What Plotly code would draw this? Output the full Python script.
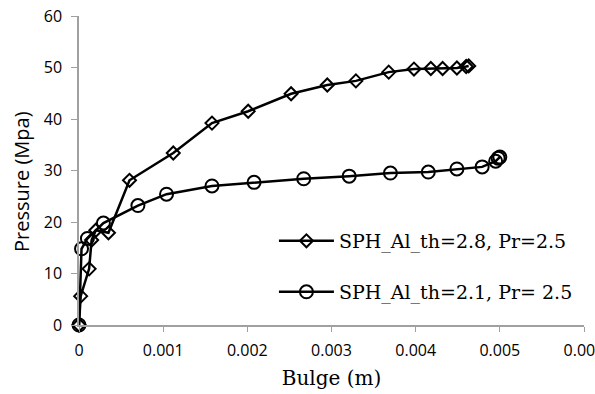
import plotly.graph_objects as go

# Series 1: SPH_Al_th=2.8, Pr=2.5 (diamonds)
bulge_28 = [0.0, 0.00002, 0.00012, 0.00015, 0.00020, 0.00035, 0.00060, 0.00112, 0.00158,
            0.00201, 0.00252, 0.00295, 0.00329, 0.00368, 0.00398, 0.00418, 0.00432,
            0.00449, 0.00460, 0.00463]
press_28 = [0.0, 5.6, 10.9, 16.5, 18.4, 17.9, 28.1, 33.4, 39.2,
            41.5, 44.9, 46.6, 47.4, 49.1, 49.7, 49.8, 49.8,
            49.9, 50.2, 50.3]

# Series 2: SPH_Al_th=2.1, Pr= 2.5 (circles)
bulge_21 = [0.0, 0.00003, 0.00010, 0.00029, 0.00070, 0.00104, 0.00158, 0.00208,
            0.00267, 0.00321, 0.00370, 0.00415, 0.00449, 0.00479, 0.00495,
            0.00498, 0.00500]
press_21 = [0.0, 14.8, 16.8, 19.8, 23.2, 25.4, 27.0, 27.7,
            28.4, 28.9, 29.5, 29.7, 30.3, 30.7, 31.8,
            32.4, 32.6]

x_ticks = [0, 0.001, 0.002, 0.003, 0.004, 0.005, 0.006]
x_tick_labels = ["0", "0.001", "0.002", "0.003", "0.004", "0.005", "0.006"]
y_ticks = [0, 10, 20, 30, 40, 50, 60]

fig = go.Figure()
fig.add_trace(go.Scatter(
    x=bulge_28, y=press_28, mode="lines+markers",
    name="SPH_Al_th=2.8, Pr=2.5",
    line=dict(color="black", width=2.5),
    marker=dict(symbol="diamond-open", size=10, color="black", line=dict(width=2)),
    cliponaxis=False,
    legend="legend",
))
fig.add_trace(go.Scatter(
    x=bulge_21, y=press_21, mode="lines+markers",
    name="SPH_Al_th=2.1, Pr= 2.5",
    line=dict(color="black", width=2.5),
    marker=dict(symbol="circle-open", size=13, color="black", line=dict(width=2)),
    cliponaxis=False,
    legend="legend2",
))

legend_font = dict(family="DejaVu Serif", size=19, color="black")
fig.update_layout(
    width=595, height=394,
    margin=dict(l=79, r=11, t=16, b=69),
    plot_bgcolor="white", paper_bgcolor="white",
    showlegend=True,
    legend=dict(x=0.386, y=0.272, xanchor="left", yanchor="middle",
                font=legend_font, bgcolor="rgba(0,0,0,0)", itemwidth=55),
    legend2=dict(x=0.386, y=0.107, xanchor="left", yanchor="middle",
                 font=legend_font, bgcolor="rgba(0,0,0,0)", itemwidth=55),
    xaxis=dict(
        range=[0, 0.006], tickvals=x_ticks, ticktext=x_tick_labels,
        automargin=False, ticklabeloverflow="allow",
        showgrid=False, zeroline=False, showline=True, linecolor="#a0a0a0", linewidth=1.5,
        ticks="outside", ticklen=5, tickcolor="#a0a0a0", ticklabelstandoff=5,
        tickfont=dict(family="Open Sans", size=16, color="black"),
        title=dict(text="Bulge (m)", font=dict(family="DejaVu Serif", size=20, color="black"),
                   standoff=11),
    ),
    yaxis=dict(
        range=[0, 60], tickvals=y_ticks,
        automargin=False, ticklabeloverflow="allow",
        showgrid=False, zeroline=False, showline=True, linecolor="#a0a0a0", linewidth=1.5,
        ticks="outside", ticklen=6, tickcolor="#a0a0a0", ticklabelstandoff=6,
        tickfont=dict(family="Open Sans", size=16, color="black"),
    ),
    annotations=[dict(
        text="Pressure (Mpa)", textangle=-90, showarrow=False,
        xref="paper", yref="paper", x=-0.115, y=0.466,
        xanchor="center", yanchor="middle",
        font=dict(family="Open Sans", size=20, color="black"),
    )],
)

fig.write_html("out.html", config={"displayModeBar": False},
               post_script="document.body.style.margin='0';")
